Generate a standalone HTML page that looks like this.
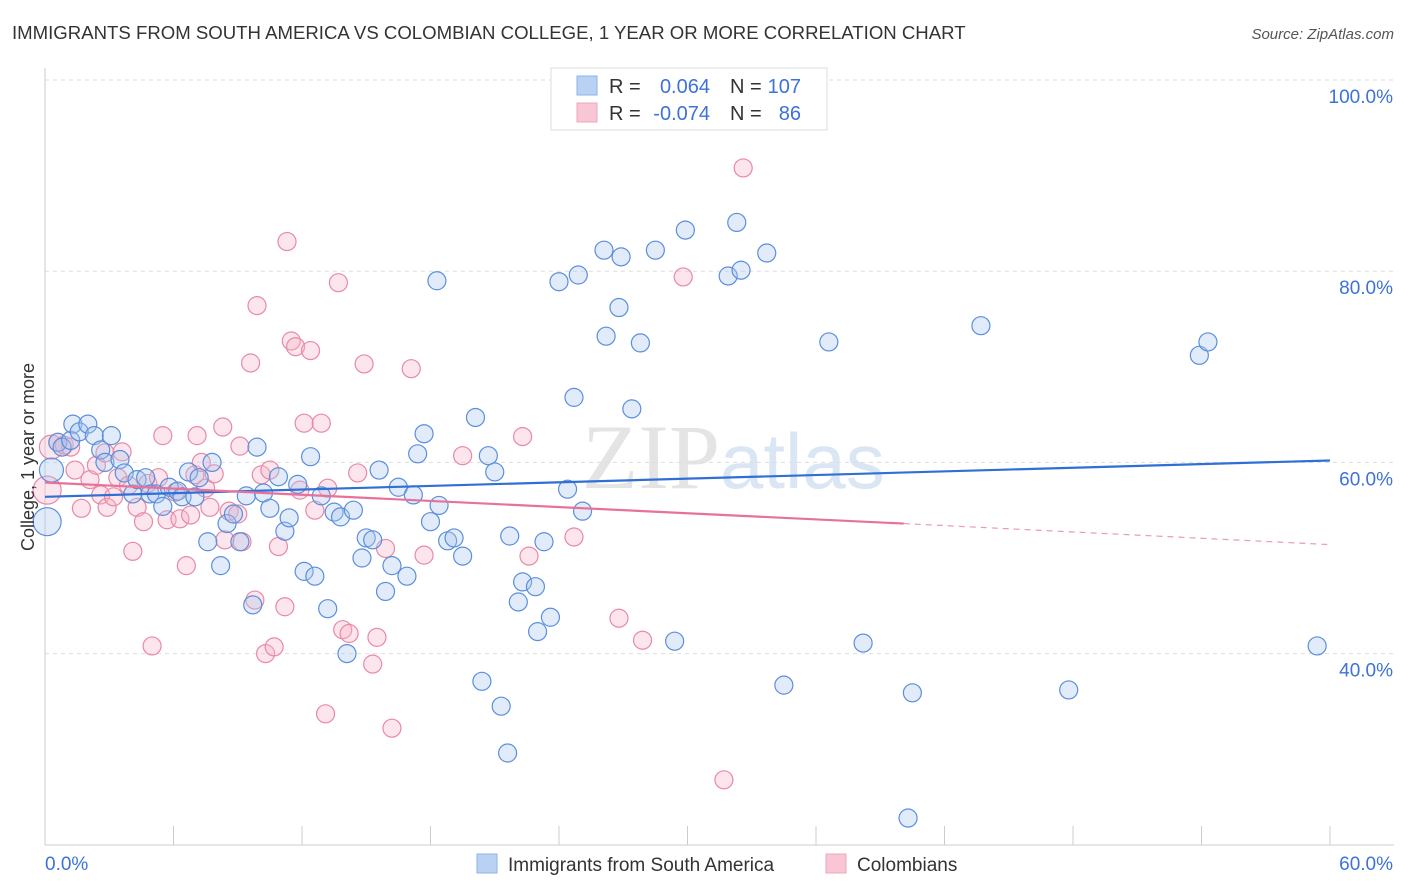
<!DOCTYPE html>
<html><head><meta charset="utf-8">
<style>
body{margin:0;background:#fff;font-family:"Liberation Sans",sans-serif;}
#wrap{position:relative;width:1406px;height:892px;overflow:hidden;}
</style></head>
<body>
<div id="wrap">
<svg id="svg" width="1406" height="892" xmlns="http://www.w3.org/2000/svg">
<text x="12" y="39" font-size="18.6" fill="#333">IMMIGRANTS FROM SOUTH AMERICA VS COLOMBIAN COLLEGE, 1 YEAR OR MORE CORRELATION CHART</text>
<text x="1394" y="39" font-size="15" fill="#555" font-style="italic" text-anchor="end">Source: ZipAtlas.com</text>
<text x="720" y="488" font-size="92" fill="#e4e4e4" text-anchor="end" font-family="Liberation Serif">ZIP</text>
<text x="720" y="488" font-size="78" fill="#dbe6f5">atlas</text>
<g id="grid"></g><g id="axes"></g><g id="pts"></g><g id="trend"></g>
<text transform="translate(34,457) rotate(-90)" font-size="18" fill="#333" text-anchor="middle">College, 1 year or more</text>
<g>
<rect x="551" y="68" width="276" height="62" fill="#fff" stroke="#ddd"/>
<rect x="577" y="76" width="20" height="19" fill="#b9d1f3" stroke="#8fb2e6"/>
<rect x="577" y="103" width="20" height="19" fill="#f8c6d5" stroke="#eea7bd"/>
<text x="609" y="93" font-size="20" fill="#333">R =</text>
<text x="710" y="93" font-size="20" fill="#3d72d8" text-anchor="end">0.064</text>
<text x="730" y="93" font-size="20" fill="#333">N =</text>
<text x="801" y="93" font-size="20" fill="#3d72d8" text-anchor="end">107</text>
<text x="609" y="120" font-size="20" fill="#333">R =</text>
<text x="710" y="120" font-size="20" fill="#3d72d8" text-anchor="end">-0.074</text>
<text x="730" y="120" font-size="20" fill="#333">N =</text>
<text x="801" y="120" font-size="20" fill="#3d72d8" text-anchor="end">86</text>
</g>
<g>
<rect x="477" y="854" width="20" height="19" fill="#b9d1f3" stroke="#8fb2e6"/>
<text x="508" y="871" font-size="19" fill="#333">Immigrants from South America</text>
<rect x="826" y="854" width="20" height="19" fill="#f8c6d5" stroke="#eea7bd"/>
<text x="857" y="871" font-size="19" fill="#333">Colombians</text>
</g>
</svg>
</div>
<script>
const xTicks=[6,12,18,24,30,36,42,48,54,60];
const yTicks=[40,60,80,100];
const yTickLabels=["40.0%","60.0%","80.0%","100.0%"];
const blueX=[0.1,0.3,0.6,0.8,1.2,1.3,1.6,2.0,2.3,2.6,2.8,3.1,3.5,3.7,4.1,4.3,4.7,4.9,5.2,5.5,5.8,6.2,6.4,6.7,7.0,7.2,7.6,7.8,8.2,8.5,8.8,9.1,9.4,9.7,9.9,10.2,10.5,10.9,11.2,11.4,11.8,12.1,12.4,12.6,12.9,13.2,13.5,13.8,14.1,14.4,14.8,15.0,15.3,15.6,15.9,16.2,16.5,16.9,17.2,17.4,17.7,18.0,18.3,18.4,18.8,19.1,19.5,20.1,20.4,20.7,21.0,21.3,21.6,21.7,22.1,22.3,22.9,23.0,23.3,23.6,24.0,24.4,24.7,24.9,25.1,26.1,26.2,26.8,26.9,27.4,27.8,28.5,29.4,29.9,31.9,32.3,32.5,33.7,34.5,36.6,38.2,40.3,40.5,43.7,47.8,53.9,54.3,59.4];
const blueY=[53.8,59.2,62.1,61.6,62.3,64.0,63.2,64.0,62.8,61.3,60.0,62.8,60.3,58.9,56.7,58.2,58.4,56.7,56.7,55.4,57.4,57.0,56.4,59.0,56.4,58.4,51.7,60.0,49.2,53.6,54.6,51.7,56.5,45.1,61.6,56.8,55.2,58.5,52.8,54.2,57.7,48.6,60.6,48.1,56.5,44.7,54.8,54.3,40.0,55.0,50.0,52.1,51.9,59.2,46.5,49.2,57.4,48.1,56.6,60.9,63.0,53.8,79.0,55.5,51.8,52.1,50.2,64.7,37.1,60.7,59.0,34.5,29.6,52.3,45.4,47.5,47.0,42.3,51.7,43.8,78.9,57.2,66.8,79.6,54.9,82.2,73.2,76.2,81.5,65.6,72.5,82.2,41.3,84.3,79.5,85.1,80.1,81.9,36.7,72.6,41.1,22.8,35.9,74.3,36.2,71.2,72.6,40.8];
const pinkX=[0.1,0.3,0.6,0.9,1.2,1.4,1.7,2.1,2.4,2.6,2.8,2.9,3.2,3.4,3.6,3.9,4.1,4.3,4.6,4.8,5.0,5.3,5.5,5.7,6.1,6.3,6.6,6.8,7.0,7.1,7.3,7.5,7.7,7.9,8.3,8.4,8.6,9.0,9.1,9.2,9.6,9.8,9.9,10.1,10.3,10.5,10.7,10.9,11.2,11.3,11.5,11.7,11.9,12.1,12.4,12.6,12.9,13.1,13.2,13.7,13.9,14.2,14.6,14.9,15.3,15.5,15.9,16.2,17.1,17.7,19.5,22.3,22.6,24.7,26.8,27.9,29.8,31.7,32.6];
const pinkY=[57.1,61.6,62.1,61.8,61.6,59.2,55.2,58.2,59.7,56.6,61.0,55.3,56.4,58.4,61.1,57.6,50.7,55.3,53.8,57.8,40.8,58.4,62.8,54.0,56.9,54.1,49.2,54.5,58.7,62.8,60.0,57.3,55.3,58.8,63.7,51.9,54.9,54.6,61.7,51.7,70.4,45.6,76.4,58.7,40.0,59.2,40.7,51.2,44.9,83.1,72.7,72.1,57.1,64.1,71.7,55.0,64.1,33.7,57.3,78.8,42.5,42.1,58.9,70.3,38.9,41.7,51.0,32.2,69.8,50.3,60.7,62.7,50.2,52.2,43.7,41.4,79.4,26.8,90.8];
const blueTrend=[[0,56.4],[60,60.2]];
const pinkTrend=[[0,57.9],[40.1,53.6],[60,51.4]];
const NS="http://www.w3.org/2000/svg";
const X=v=>45+v*(1285/60), Y=v=>80+(100-v)*9.56;
function mk(tag,attrs,parent){const e=document.createElementNS(NS,tag);for(const k in attrs)e.setAttribute(k,attrs[k]);document.getElementById(parent).appendChild(e);return e;}
yTicks.forEach((t,i)=>{
  const g=mk('line',{x1:45,x2:1394,y1:Y(t),y2:Y(t),stroke:'#ddd','stroke-dasharray':'4,4'},'grid');
  
  
  const l=mk('text',{x:1393,y:Y(t)+23,'font-size':19,fill:'#3d72d8','text-anchor':'end'},'grid');
  l.textContent=yTickLabels[i];
  
  
});
const ax=mk('line',{x1:45,x2:1394,y1:845,y2:845,stroke:'#ccc'},'axes');


const ay=mk('line',{x1:45,x2:45,y1:68,y2:845,stroke:'#ccc'},'axes');


xTicks.forEach(t=>{const e=mk('line',{x1:X(t),x2:X(t),y1:826,y2:845,stroke:'#ccc'},'axes');
  
  });
const x0=mk('text',{x:45,y:870,'font-size':19,fill:'#3d72d8'},'axes');x0.textContent='0.0%';


const x1=mk('text',{x:1393,y:870,'font-size':19,fill:'#3d72d8','text-anchor':'end'},'axes');x1.textContent='60.0%';


function dots(xs,ys,fill,stroke,name){xs.forEach((x,i)=>{const r=i<2?(i===0?14:12):9;
  const c=mk('circle',{cx:X(x),cy:Y(ys[i]),r:r,fill:fill,'fill-opacity':0.35,stroke:stroke,'stroke-width':1.2},'pts');
  
  });}
dots(pinkX,pinkY,'#f5b5c9','#e889a7','colombians-point');
dots(blueX,blueY,'#a9c6ef','#5b8fdc','immigrants-point');
const bt=mk('line',{x1:X(blueTrend[0][0]),y1:Y(blueTrend[0][1]),x2:X(blueTrend[1][0]),y2:Y(blueTrend[1][1]),stroke:'#2f6fd6','stroke-width':2.2},'trend');


const pt=mk('line',{x1:X(pinkTrend[0][0]),y1:Y(pinkTrend[0][1]),x2:X(pinkTrend[1][0]),y2:Y(pinkTrend[1][1]),stroke:'#e8719a','stroke-width':2.2},'trend');


const pd=mk('line',{x1:X(pinkTrend[1][0]),y1:Y(pinkTrend[1][1]),x2:X(pinkTrend[2][0]),y2:Y(pinkTrend[2][1]),stroke:'#eb9ab5','stroke-width':1.2,'stroke-dasharray':'6,5'},'trend');


</script>
</body></html>
